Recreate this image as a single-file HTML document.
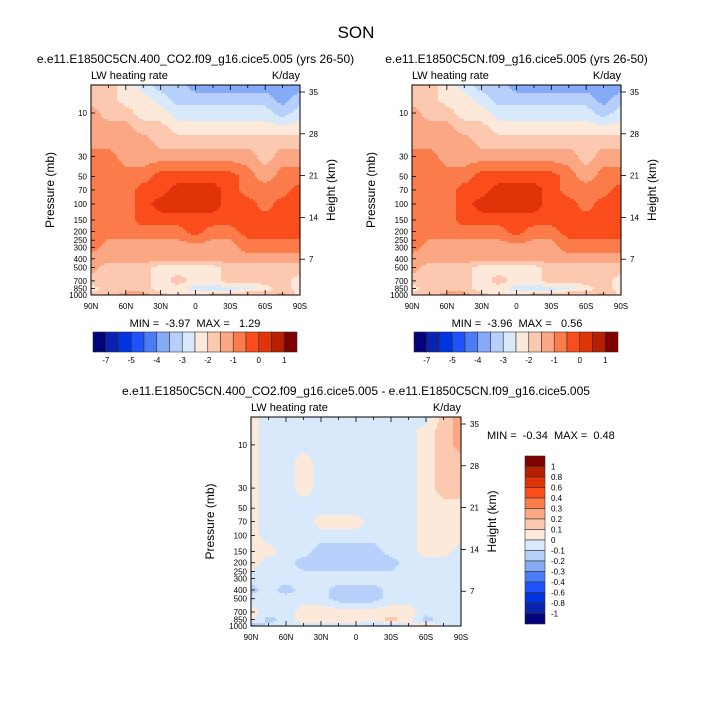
<!DOCTYPE html>
<html><head><meta charset="utf-8"><style>
body{margin:0;background:#fff;}
svg{display:block;font-family:"Liberation Sans",sans-serif;}
</style></head><body>
<svg id="fig" width="713" height="714" viewBox="0 0 713 714" xmlns="http://www.w3.org/2000/svg">
<rect width="713" height="714" fill="#fff"/>
<text x="356" y="38" font-size="17" text-anchor="middle">SON</text>
</svg>
<script>
// ---- data ----
const lats = ["90N","75N","60N","45N","30N","15N","0","15S","30S","45S","60S","75S","90S"];
const pressures = [5,7,10,15,20,30,50,70,100,150,200,300,400,500,700,850,1000];
const pTicks = [10,30,50,70,100,150,200,250,300,400,500,700,850,1000];
const xTickLabels = ["90N","60N","30N","0","30S","60S","90S"];
const hTickLabels = ["35","28","21","14","7"];
const levelsAbs = [-7,-6,-5,-4.5,-4,-3.5,-3,-2.5,-2,-1.5,-1,-0.5,0,0.5,1];
const levelsAbsLabels = ["-7","-5","-4","-3","-2","-1","0","1"];
const levelsDiff = [-1,-0.8,-0.6,-0.4,-0.3,-0.2,-0.1,0,0.1,0.2,0.3,0.4,0.6,0.8,1];
const levelsDiffLabels = ["1","0.8","0.6","0.4","0.3","0.2","0.1","0","-0.1","-0.2","-0.3","-0.4","-0.6","-0.8","-1"];
const palette = ["#03037a","#0a22b0","#0034e0","#1f52ff","#4a7cf5","#84aaf8","#b6cffb","#d9e9fc","#fde9da","#fcc9b0","#fca784","#fb7b4b","#fb4d1c","#e03408","#b81f00","#7e0000"];
const fieldCase = [
[-1.75,-1.75,-2.25,-2.75,-3.25,-3.25,-3.75,-3.75,-3.75,-3.75,-3.75,-3.75,-3.75],
[-1.75,-1.75,-2.25,-2.25,-2.75,-3.25,-3.25,-3.25,-3.25,-3.25,-3.25,-3.75,-3.25],
[-1.25,-1.75,-1.75,-2.25,-2.25,-2.75,-2.75,-2.75,-2.75,-2.75,-2.75,-3.25,-2.75],
[-1.25,-1.25,-1.25,-1.75,-1.75,-2.25,-2.25,-2.25,-2.25,-2.25,-2.25,-2.25,-2.25],
[-1.25,-1.25,-1.25,-1.25,-1.75,-1.75,-1.75,-1.75,-1.75,-1.75,-1.75,-1.75,-1.75],
[-0.75,-0.75,-1.25,-1.25,-1.25,-1.25,-1.25,-1.25,-1.25,-1.25,-1.75,-1.25,-1.25],
[-0.75,-0.75,-0.75,-0.75,-0.25,-0.25,-0.25,-0.25,-0.25,-0.75,-1.25,-0.75,-0.75],
[-0.75,-0.75,-0.75,-0.25,-0.25,0.25,0.25,0.25,-0.25,-0.75,-0.75,-0.75,-0.25],
[-0.75,-0.75,-0.75,-0.25,0.25,0.25,0.25,0.25,-0.25,-0.25,-0.75,-0.25,-0.25],
[-0.75,-0.75,-0.75,-0.25,-0.25,-0.25,-0.25,-0.25,-0.25,-0.25,-0.25,-0.25,-0.25],
[-0.75,-0.75,-0.75,-0.75,-0.75,-0.75,-0.25,-0.75,-0.75,-0.25,-0.25,-0.25,-0.25],
[-0.75,-1.25,-1.25,-1.25,-1.25,-1.25,-1.25,-1.25,-1.25,-0.75,-0.75,-0.75,-0.75],
[-1.25,-1.25,-1.25,-1.25,-1.25,-1.25,-1.25,-1.25,-1.25,-1.25,-1.25,-1.25,-1.25],
[-1.25,-1.75,-1.75,-1.75,-2.25,-2.25,-2.25,-2.25,-1.75,-1.75,-1.75,-1.75,-1.75],
[-1.75,-1.75,-1.75,-1.75,-2.25,-1.75,-2.25,-2.25,-1.75,-1.75,-1.75,-1.75,-2.25],
[-2.25,-1.75,-1.75,-1.75,-2.25,-2.25,-2.75,-2.75,-2.75,-2.75,-2.25,-1.75,-2.25],
[-1.75,-1.75,-1.25,-1.25,-1.75,-2.25,-2.25,-1.75,-1.75,-1.25,-1.75,-1.25,-2.25]];
const fieldCtrl = [
[-1.75,-1.75,-2.25,-2.75,-3.25,-3.25,-3.75,-3.75,-3.75,-3.75,-3.75,-3.75,-3.75],
[-1.75,-1.75,-2.25,-2.25,-2.75,-3.25,-3.25,-3.25,-3.25,-3.25,-3.25,-3.75,-3.25],
[-1.25,-1.75,-1.75,-2.25,-2.25,-2.75,-2.75,-2.75,-2.75,-2.75,-2.75,-3.25,-2.75],
[-1.25,-1.25,-1.25,-1.75,-1.75,-2.25,-2.25,-2.25,-2.25,-2.25,-2.25,-2.25,-2.25],
[-1.25,-1.25,-1.25,-1.25,-1.75,-1.75,-1.75,-1.75,-1.75,-1.75,-1.75,-1.75,-1.75],
[-0.75,-0.75,-1.25,-1.25,-1.25,-1.25,-1.25,-1.25,-1.25,-1.25,-1.75,-1.25,-1.25],
[-0.75,-0.75,-0.75,-0.75,-0.25,-0.25,-0.25,-0.25,-0.25,-0.75,-1.25,-0.75,-0.75],
[-0.75,-0.75,-0.75,-0.25,-0.25,0.25,0.25,0.25,-0.25,-0.75,-0.75,-0.75,-0.25],
[-0.75,-0.75,-0.75,-0.25,0.25,0.25,0.25,0.25,-0.25,-0.25,-0.75,-0.25,-0.25],
[-0.75,-0.75,-0.75,-0.25,-0.25,-0.25,-0.25,-0.25,-0.25,-0.25,-0.25,-0.25,-0.25],
[-0.75,-0.75,-0.75,-0.75,-0.75,-0.75,-0.25,-0.75,-0.75,-0.25,-0.25,-0.25,-0.25],
[-0.75,-1.25,-1.25,-1.25,-1.25,-1.25,-1.25,-1.25,-1.25,-0.75,-0.75,-0.75,-0.75],
[-1.25,-1.25,-1.25,-1.25,-1.25,-1.25,-1.25,-1.25,-1.25,-1.25,-1.25,-1.25,-1.25],
[-1.25,-1.75,-1.75,-1.75,-2.25,-2.25,-2.25,-2.25,-1.75,-1.75,-1.75,-1.75,-1.75],
[-1.75,-1.75,-1.75,-1.75,-2.25,-1.75,-2.25,-2.25,-1.75,-1.75,-1.75,-1.75,-2.25],
[-2.25,-1.75,-1.75,-1.75,-2.25,-2.25,-2.75,-2.75,-2.75,-2.75,-2.25,-1.75,-2.25],
[-1.75,-1.75,-1.25,-1.25,-1.75,-2.25,-2.25,-1.75,-1.75,-1.25,-1.75,-1.25,-2.25]];
const fieldDiff = [
[0.05,-0.05,-0.05,-0.05,-0.05,-0.05,-0.05,-0.05,-0.05,-0.05,-0.05,0.15,0.25],
[0.05,-0.05,-0.05,-0.05,-0.05,-0.05,-0.05,-0.05,-0.05,-0.05,0.05,0.15,0.25],
[0.05,-0.05,-0.05,-0.05,-0.05,-0.05,-0.05,-0.05,-0.05,-0.05,0.05,0.15,0.25],
[0.05,-0.05,-0.05,0.05,-0.05,-0.05,-0.05,-0.05,-0.05,-0.05,0.05,0.15,0.15],
[0.05,-0.05,-0.05,0.05,-0.05,-0.05,-0.05,-0.05,-0.05,-0.05,0.05,0.15,0.15],
[0.05,-0.05,-0.05,0.05,-0.05,-0.05,-0.05,-0.05,-0.05,-0.05,0.05,0.15,0.15],
[0.05,-0.05,-0.05,-0.05,-0.05,-0.05,-0.05,-0.05,-0.05,-0.05,0.05,0.05,0.05],
[0.05,-0.05,-0.05,-0.05,0.05,0.05,0.05,-0.05,-0.05,-0.05,0.05,0.05,0.05],
[0.05,-0.05,-0.05,-0.05,-0.05,-0.05,-0.05,-0.05,-0.05,-0.05,0.05,0.05,0.05],
[0.05,0.05,-0.05,-0.05,-0.15,-0.15,-0.15,-0.15,-0.05,-0.05,0.05,0.05,-0.05],
[0.05,-0.05,-0.05,-0.15,-0.15,-0.15,-0.15,-0.15,-0.15,-0.05,-0.05,-0.05,-0.05],
[-0.05,-0.05,-0.05,-0.05,-0.05,-0.05,-0.05,-0.05,-0.05,-0.05,-0.05,-0.05,-0.05],
[-0.15,-0.05,-0.15,-0.05,-0.05,-0.15,-0.15,-0.15,-0.05,-0.05,-0.05,-0.05,-0.05],
[-0.05,-0.05,-0.05,-0.05,-0.05,-0.15,-0.15,-0.15,-0.05,-0.05,-0.05,-0.05,-0.05],
[0.05,-0.05,-0.05,0.05,0.05,0.05,0.05,0.05,0.05,0.05,-0.05,-0.05,-0.05],
[0.05,-0.15,-0.05,0.05,0.05,0.05,0.05,0.05,0.15,0.05,-0.15,-0.05,-0.05],
[-0.25,-0.05,-0.05,-0.05,-0.05,-0.05,-0.05,-0.15,-0.15,-0.05,0.15,-0.05,-0.05]];

const NS="http://www.w3.org/2000/svg";
const svg=document.getElementById('fig');
function mk(tag,attrs,parent,txt){const e=document.createElementNS(NS,tag);for(const k in attrs)e.setAttribute(k,attrs[k]);if(txt!==undefined)e.textContent=txt;(parent||svg).appendChild(e);return e;}
const P_TOP=4.92;
function classOf(v,levels){let c=0;for(const b of levels)if(v>b)c++;return c;}
function sample(field,fi,pl){
  const lp=pressures.map(p=>Math.log10(p));
  let j=0;while(j<lp.length-2&&pl>lp[j+1])j++;
  let t=(pl-lp[j])/(lp[j+1]-lp[j]);t=Math.max(0,Math.min(1,t));
  let i=Math.min(Math.floor(fi),lats.length-2);let s=fi-i;
  const a=field[j][i]*(1-s)+field[j][i+1]*s, b=field[j+1][i]*(1-s)+field[j+1][i+1]*s;
  return a*(1-t)+b*t;
}
function panel(name,x0,y0,w,h,field,levels,title){
  const g=mk('g',{});
  
  
  const yOf=p=>y0+h-h*Math.log10(1000/p)/Math.log10(1000/P_TOP);
  const xOf=k=>x0+w*k/(lats.length-1);
  const cg=mk('g',{},g);
  
  
  const step=2;
  for(let yy=0;yy<h;yy+=step){
    const pl=Math.log10(1000)-(h-yy-step/2)/h*Math.log10(1000/P_TOP);
    let runStart=0,runC=-1;
    for(let xx=0;;xx+=step){
      const done=xx>=w;
      let c=-2;
      if(!done){const fi=Math.min(xx+step/2,w)/w*(lats.length-1);c=classOf(sample(field,fi,pl),levels);}
      if(c!==runC){
        if(runC>=0){const r=mk('rect',{x:x0+runStart,y:y0+yy,width:Math.min(xx,w)-runStart+0.3,height:Math.min(step,h-yy)+0.3,fill:palette[runC]},cg);
          
          }
        runStart=xx;runC=c;
      }
      if(done)break;
    }
  }
  mk('rect',{x:x0,y:y0,width:w,height:h,fill:'none',stroke:'#000','stroke-width':1},g);
  for(let k=0;k<=12;k++){const x=xOf(k),L=k%2?3:5;
    mk('line',{x1:x,y1:y0+h,x2:x,y2:y0+h-L,stroke:'#000','stroke-width':0.8},g);
    mk('line',{x1:x,y1:y0,x2:x,y2:y0+L,stroke:'#000','stroke-width':0.8},g);}
  xTickLabels.forEach((t,i)=>{const l=mk('text',{x:xOf(i*2),y:y0+h+14,'font-size':8,'text-anchor':'middle'},g,t);
    
    });
  pTicks.forEach(p=>{const y=yOf(p);
    mk('line',{x1:x0,y1:y,x2:x0+4,y2:y,stroke:'#000','stroke-width':0.8},g);
    const l=mk('text',{x:x0-4,y:y+3,'font-size':8,'text-anchor':'end'},g,String(p));
    
    });
  hTickLabels.forEach((t,i)=>{const y=y0+7+i*41.8;
    mk('line',{x1:x0+w,y1:y,x2:x0+w+5,y2:y,stroke:'#000','stroke-width':0.8},g);
    const l=mk('text',{x:x0+w+9,y:y+3,'font-size':8},g,t);
    
    });
  let t=mk('text',{x:x0,y:y0-6,'font-size':11},g,'LW heating rate');
  
  t=mk('text',{x:x0+w,y:y0-6,'font-size':11,'text-anchor':'end'},g,'K/day');
  
  t=mk('text',{x:0,y:0,'font-size':12,'text-anchor':'middle',transform:`translate(${x0-37},${y0+h/2}) rotate(-90)`},g,'Pressure (mb)');
  
  t=mk('text',{x:0,y:0,'font-size':12,'text-anchor':'middle',transform:`translate(${x0+w+35},${y0+h/2}) rotate(-90)`},g,'Height (km)');
  
  t=mk('text',{x:x0+w/2,y:y0-22,'font-size':12,'text-anchor':'middle'},g,title);
  
  return g;
}
function hbar(x0,y0,w,h){
  const g=mk('g',{});
  
  
  const bw=w/palette.length;
  palette.forEach((c,i)=>{const r=mk('rect',{x:x0+i*bw,y:y0,width:bw,height:h,fill:c,stroke:'#333','stroke-width':0.6},g);
    });
  levelsAbsLabels.forEach((t,i)=>{const l=mk('text',{x:x0+(1+2*i)*bw,y:y0+h+11,'font-size':8,'text-anchor':'middle'},g,t);
    });
}
panel('panel-case',91,85,209,210,fieldCase,levelsAbs,'e.e11.E1850C5CN.400_CO2.f09_g16.cice5.005 (yrs 26-50)');
panel('panel-control',412,85,209,210,fieldCtrl,levelsAbs,'e.e11.E1850C5CN.f09_g16.cice5.005 (yrs 26-50)');
panel('panel-difference',251,417,210,209,fieldDiff,levelsDiff,'e.e11.E1850C5CN.400_CO2.f09_g16.cice5.005 - e.e11.E1850C5CN.f09_g16.cice5.005');
hbar(93,332,204,20);
hbar(414,332,204,20);
function stat(x,y,txt,anchor){const t=mk('text',{x:x,y:y,'font-size':11,'text-anchor':anchor,'xml:space':'preserve',style:'white-space:pre'},svg,txt);
  }
stat(195,327,'MIN =  -3.97  MAX =   1.29','middle');
stat(517,327,'MIN =  -3.96  MAX =   0.56','middle');
stat(487,439,'MIN =  -0.34  MAX =  0.48','start');
(function(){const g=mk('g',{});
  
  
  const x0=525,y0=456,w=20,h=168,bh=h/16;
  const rev=palette.slice().reverse();
  rev.forEach((c,i)=>{const r=mk('rect',{x:x0,y:y0+i*bh,width:w,height:bh,fill:c,stroke:'#333','stroke-width':0.6},g);
    });
  levelsDiffLabels.forEach((t,i)=>{const l=mk('text',{x:x0+w+6,y:y0+(i+1)*bh+3,'font-size':8},g,t);
    });
})();
</script>
</body></html>
